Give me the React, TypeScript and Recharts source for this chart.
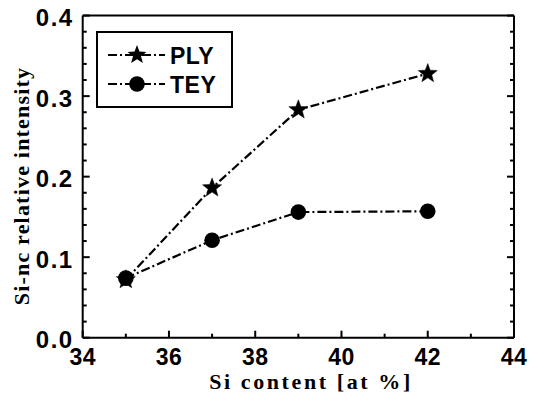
import React from "react";
import { LineChart, Line, XAxis, YAxis, Legend, Label } from "recharts";

const siContent = [35, 37, 39, 42];
const plyValues = [0.072, 0.186, 0.283, 0.328];
const teyValues = [0.074, 0.121, 0.156, 0.157];
const xTicks = [34, 35, 36, 37, 38, 39, 40, 41, 42, 43, 44];
const yTicks = [0, 0.02, 0.04, 0.06, 0.08, 0.1, 0.12, 0.14, 0.16, 0.18, 0.2, 0.22, 0.24, 0.26, 0.28, 0.3, 0.32, 0.34, 0.36, 0.38, 0.4];
const seriesNames = ["PLY", "TEY"];

const data = siContent.map((x, i) => ({ x, ply: plyValues[i], tey: teyValues[i] }));

const SANS = "'Liberation Sans', Arial, sans-serif";
const SERIF = "'Liberation Serif', 'Times New Roman', serif";
const DASH = "9 3 2 3";

const isMajorX = (v: number) => v % 2 === 0;
const isMajorY = (v: number) => Math.abs(v * 10 - Math.round(v * 10)) < 1e-6;

const starPoints = (cx: number, cy: number, R: number, r: number) => {
  const pts: string[] = [];
  for (let i = 0; i < 10; i++) {
    const rad = i % 2 === 0 ? R : r;
    const a = -Math.PI / 2 + (i * Math.PI) / 5;
    pts.push(`${cx + rad * Math.cos(a)},${cy + rad * Math.sin(a)}`);
  }
  return pts.join(" ");
};

const StarDot = (props: any) => {
  const { cx, cy, index } = props;
  if (cx == null || cy == null) return <g key={`s${index}`} />;
  return <polygon key={`s${index}`} points={starPoints(cx, cy, 10, 4.2)} fill="#000" stroke="#000" strokeWidth={0.5} />;
};

const CircleDot = (props: any) => {
  const { cx, cy, index } = props;
  if (cx == null || cy == null) return <g key={`c${index}`} />;
  return <circle key={`c${index}`} cx={cx} cy={cy} r={7.8} fill="#000" />;
};

const BottomTick = (props: any) => {
  const { x, y, payload } = props;
  const v = payload.value;
  const major = isMajorX(v);
  return (
    <g>
      <line x1={x} y1={y} x2={x} y2={y - (major ? 7 : 4)} stroke="#000" strokeWidth={2} />
      {major && (
        <text x={x} y={y + 27} textAnchor="middle" fontFamily={SANS} fontWeight="bold" fontSize={23} letterSpacing={0.5} fill="#000">
          {v}
        </text>
      )}
    </g>
  );
};

const TopTick = (props: any) => {
  const { x, y, payload } = props;
  const major = isMajorX(payload.value);
  return <line x1={x} y1={y} x2={x} y2={y + (major ? 7 : 4)} stroke="#000" strokeWidth={2} />;
};

const LeftTick = (props: any) => {
  const { x, y, payload } = props;
  const v = payload.value;
  const major = isMajorY(v);
  return (
    <g>
      <line x1={x} y1={y} x2={x + (major ? 7 : 4)} y2={y} stroke="#000" strokeWidth={2} />
      {major && (
        <text x={x - 9} y={y + 10.5} textAnchor="end" fontFamily={SANS} fontWeight="bold" fontSize={24} letterSpacing={1.5} fill="#000">
          {v.toFixed(1)}
        </text>
      )}
    </g>
  );
};

const RightTick = (props: any) => {
  const { x, y, payload } = props;
  const major = isMajorY(payload.value);
  return <line x1={x} y1={y} x2={x - (major ? 7 : 4)} y2={y} stroke="#000" strokeWidth={2} />;
};

const LegendBox = () => (
  <svg width={137} height={77} style={{ display: "block" }}>
    <rect x={1} y={1} width={135} height={75} fill="#fff" stroke="#000" strokeWidth={2} />
    {seriesNames.map((name, i) => {
      const ry = i === 0 ? 24 : 53;
      return (
        <g key={name}>
          <line x1={12} y1={ry} x2={69} y2={ry} stroke="#000" strokeWidth={2} strokeDasharray={DASH} />
          {i === 0 ? (
            <polygon points={starPoints(41, ry, 10, 4.2)} fill="#000" />
          ) : (
            <circle cx={41} cy={ry} r={7.8} fill="#000" />
          )}
          <text x={74} y={ry + 8.5} fontFamily={SANS} fontWeight="bold" fontSize={23} letterSpacing={0.5} fill="#000">
            {name}
          </text>
        </g>
      );
    })}
  </svg>
);

export default function App() {
  return (
    <div style={{ position: "absolute", left: 0, top: 0, width: 533, height: 396, background: "#fff" }}>
      <LineChart width={533} height={396} data={data} margin={{ top: 14.6, right: 18, bottom: 57.3, left: 81.7 }}>
        <XAxis
          dataKey="x"
          type="number"
          domain={[34, 44]}
          ticks={xTicks}
          interval={0}
          height={1}
          tickSize={0}
          tickMargin={0}
          tickLine={false}
          axisLine={{ stroke: "#000", strokeWidth: 2 }}
          tick={<BottomTick />}
          allowDataOverflow
        >
          <Label
            content={() => (
              <text x={311} y={389} textAnchor="middle" fontFamily={SERIF} fontWeight="bold" fontSize={22} letterSpacing={2.6} fill="#000">
                Si content [at %]
              </text>
            )}
          />
        </XAxis>
        <XAxis
          xAxisId="top"
          orientation="top"
          type="number"
          domain={[34, 44]}
          ticks={xTicks}
          interval={0}
          height={1}
          tickSize={0}
          tickMargin={0}
          tickLine={false}
          axisLine={{ stroke: "#000", strokeWidth: 2 }}
          tick={<TopTick />}
          allowDataOverflow
        />
        <YAxis
          type="number"
          domain={[0, 0.4]}
          ticks={yTicks}
          interval={0}
          width={1}
          tickSize={0}
          tickMargin={0}
          tickLine={false}
          axisLine={{ stroke: "#000", strokeWidth: 2 }}
          tick={<LeftTick />}
          allowDataOverflow
        >
          <Label
            content={() => (
              <text
                x={0}
                y={0}
                transform="translate(29 186) rotate(-90)"
                textAnchor="middle"
                fontFamily={SERIF}
                fontWeight="bold"
                fontSize={22}
                letterSpacing={1.2}
                fill="#000"
              >
                Si-nc relative intensity
              </text>
            )}
          />
        </YAxis>
        <YAxis
          yAxisId="right"
          orientation="right"
          type="number"
          domain={[0, 0.4]}
          ticks={yTicks}
          interval={0}
          width={1}
          tickSize={0}
          tickMargin={0}
          tickLine={false}
          axisLine={{ stroke: "#000", strokeWidth: 2 }}
          tick={<RightTick />}
          allowDataOverflow
        />
        <Legend
          layout="horizontal"
          verticalAlign="middle"
          align="center"
          wrapperStyle={{ left: 96, top: 31, width: 137, height: 77 }}
          content={() => <LegendBox />}
        />
        <Line
          type="linear"
          dataKey="ply"
          name={seriesNames[0]}
          stroke="#000"
          strokeWidth={2.2}
          strokeDasharray={DASH}
          dot={StarDot}
          isAnimationActive={false}
        />
        <Line
          type="linear"
          dataKey="tey"
          name={seriesNames[1]}
          stroke="#000"
          strokeWidth={2.2}
          strokeDasharray={DASH}
          dot={CircleDot}
          isAnimationActive={false}
        />
      </LineChart>
    </div>
  );
}
